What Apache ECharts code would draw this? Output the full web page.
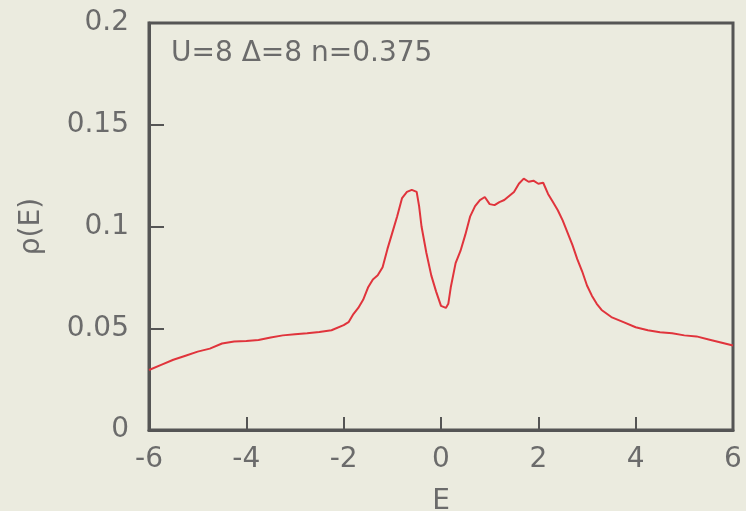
<!DOCTYPE html>
<html>
<head>
<meta charset="utf-8">
<script src="https://cdn.jsdelivr.net/npm/echarts@6/dist/echarts.min.js"></script>
<style>
html,body{margin:0;padding:0;background:#ebebdf;}
#chart{width:746px;height:511px;}
</style>
</head>
<body>
<div id="chart"></div>
<script>
// Data
const energies = [
  -6.0,-5.75,-5.5,-5.25,-5.0,-4.75,-4.5,-4.25,-4.0,-3.75,-3.5,-3.25,-3.0,-2.75,-2.5,-2.25,
  -2.0,-1.9,-1.8,-1.7,-1.6,-1.5,-1.4,-1.3,-1.2,-1.1,-1.0,-0.9,-0.8,-0.7,-0.6,-0.5,-0.45,-0.4,
  -0.3,-0.2,-0.1,0.0,0.1,0.15,0.2,0.3,0.4,0.5,0.6,0.7,0.8,0.9,1.0,1.1,1.2,1.3,1.4,1.5,1.6,
  1.7,1.8,1.9,2.0,2.1,2.2,2.3,2.4,2.5,2.6,2.7,2.8,2.9,3.0,3.1,3.2,3.3,3.5,3.75,4.0,4.25,
  4.5,4.75,5.0,5.25,5.5,5.75,6.0
];
const dos = [
  0.0295,0.032,0.0345,0.0365,0.0385,0.040,0.0425,0.0435,0.0437,0.0442,0.0455,0.0465,0.047,0.0475,0.0482,0.049,
  0.0515,0.053,0.057,0.060,0.064,0.070,0.074,0.076,0.080,0.089,0.097,0.105,0.114,0.117,0.118,0.117,0.110,0.100,
  0.087,0.076,0.068,0.061,0.060,0.062,0.070,0.082,0.088,0.096,0.105,0.110,0.113,0.1145,0.111,0.1105,0.112,0.113,0.115,0.117,0.121,
  0.1235,0.122,0.1225,0.121,0.1215,0.116,0.112,0.108,0.103,0.097,0.091,0.084,0.078,0.071,0.066,0.062,0.059,0.0555,0.053,0.0505,0.049,
  0.048,0.0475,0.0465,0.046,0.0445,0.043,0.0415
];
const xTicks = {min: -6, max: 6, step: 2};
const yTicks = {min: 0, max: 0.2, step: 0.05};
const annotation = 'U=8 \u0394=8 n=0.375';
const xName = 'E';
const yName = '\u03c1(E)';

const chart = echarts.init(document.getElementById('chart'), null, {renderer: 'canvas'});
const font = 'DejaVu Sans';
const textColor = '#6b6b6b';
const axisColor = '#555555';
chart.setOption({
  backgroundColor: '#ebebdf',
  animation: false,
  grid: {left: 149, right: 13, top: 23, bottom: 81, outerBoundsMode: 'none', containLabel: false,
         show: true, borderColor: axisColor, borderWidth: 3, backgroundColor: 'transparent'},
  xAxis: {
    type: 'value', min: xTicks.min, max: xTicks.max, interval: xTicks.step,
    name: xName, nameLocation: 'middle', nameGap: 58,
    nameTextStyle: {fontFamily: font, fontSize: 28, color: textColor},
    axisLine: {show: true, onZero: false, lineStyle: {color: axisColor, width: 3}},
    axisTick: {show: true, inside: true, length: 13, lineStyle: {color: axisColor, width: 2}},
    axisLabel: {fontFamily: font, fontSize: 28, color: textColor, margin: 16},
    splitLine: {show: false}
  },
  yAxis: {
    type: 'value', min: yTicks.min, max: yTicks.max, interval: yTicks.step,
    name: yName, nameLocation: 'middle', nameGap: 103, nameRotate: 90,
    nameTextStyle: {fontFamily: font, fontSize: 28, color: textColor},
    axisLine: {show: true, onZero: false, lineStyle: {color: axisColor, width: 3}},
    axisTick: {show: true, inside: true, length: 15, lineStyle: {color: axisColor, width: 2}},
    axisLabel: {fontFamily: font, fontSize: 28, color: textColor, margin: 20},
    splitLine: {show: false}
  },
  graphic: [{
    type: 'text', left: 171, top: 40,
    style: {text: annotation, fontFamily: font, fontSize: 28, fill: textColor}
  }],
  series: [{
    type: 'line',
    data: energies.map((e, i) => [e, dos[i]]),
    showSymbol: false,
    smooth: false,
    lineStyle: {color: '#e0343c', width: 2},
    itemStyle: {color: '#e0343c'}
  }]
});
</script>
</body>
</html>
